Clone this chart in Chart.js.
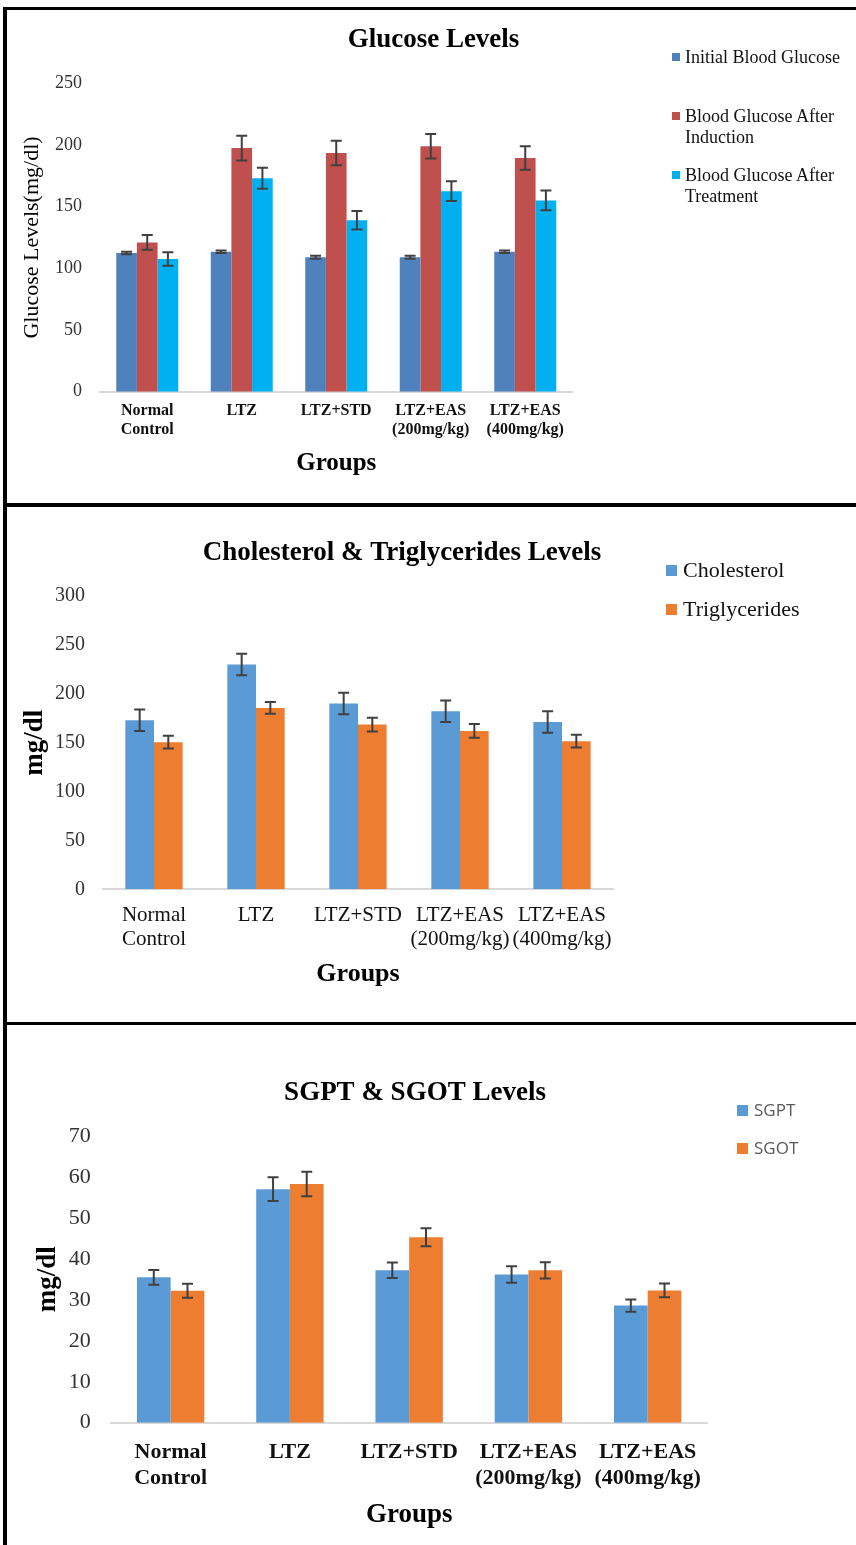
<!DOCTYPE html>
<html>
<head>
<meta charset="utf-8">
<script src="https://cdn.jsdelivr.net/npm/chart.js@4.4.1/dist/chart.umd.min.js"></script>
<style>
  html, body { margin: 0; padding: 0; }
  body { width: 856px; height: 1545px; background: #fff; position: relative; overflow: hidden; }
  .rule { position: absolute; background: #000; }
  canvas { position: absolute; }
  .lg-item { position: absolute; white-space: normal; }
  .lg-swatch { position: absolute; }
</style>
</head>
<body>
<div class="rule" style="left:3px;top:7px;width:853px;height:3px"></div>
<div class="rule" style="left:3px;top:7px;width:4px;height:1538px"></div>
<div class="rule" style="left:3px;top:503px;width:853px;height:4px"></div>
<div class="rule" style="left:3px;top:1022px;width:853px;height:3px"></div>

<canvas id="glucose" width="845" height="492" style="left:11px;top:11px"></canvas>
<canvas id="lipids" width="788" height="515" style="left:8px;top:507px"></canvas>
<canvas id="enzymes" width="814" height="520" style="left:8px;top:1025px"></canvas>

<script>
// ---- data ----
const groups = [['Normal', 'Control'], 'LTZ', 'LTZ+STD', ['LTZ+EAS', '(200mg/kg)'], ['LTZ+EAS', '(400mg/kg)']];

const glucoseInitial = [112.5, 113.5, 109, 109, 113.5];
const glucoseInitialErr = [1, 1, 1.2, 1.2, 1];
const glucoseInduction = [121, 197.5, 193.5, 199, 189.5];
const glucoseInductionErr = [6, 10, 10, 10, 9.5];
const glucoseTreatment = [107.5, 173, 139, 162.5, 155];
const glucoseTreatmentErr = [5.5, 8.5, 7.5, 8, 8];

const cholesterol = [173, 230, 190, 182, 171];
const cholesterolErr = [11, 11, 11, 11, 11];
const triglycerides = [150.5, 185.5, 168.5, 162, 151.5];
const triglyceridesErr = [6.5, 6, 7, 7, 6.5];

const sgpt = [35.5, 57, 37.2, 36.2, 28.6];
const sgptErr = [1.8, 2.9, 1.9, 2, 1.5];
const sgot = [32.2, 58.3, 45.3, 37.2, 32.3];
const sgotErr = [1.7, 3, 2.2, 2, 1.7];

const glucoseTicks = { min: 0, max: 250, step: 50 };
const lipidTicks = { min: 0, max: 300, step: 50 };
const enzymeTicks = { min: 0, max: 70, step: 10 };

// ---- helpers ----
const SERIF = "'Liberation Serif', 'Times New Roman', serif";
Chart.defaults.font.family = SERIF;
Chart.defaults.color = '#333';

// Mean ± SD whiskers drawn on top of each bar
const errorBars = {
  id: 'errorBars',
  afterDatasetsDraw(chart, args, opts) {
    const { ctx } = chart;
    const yScale = chart.scales.y;
    chart.data.datasets.forEach((ds, i) => {
      if (!ds.errors) return;
      const meta = chart.getDatasetMeta(i);
      meta.data.forEach((bar, j) => {
        const v = ds.data[j], e = ds.errors[j];
        const yTop = yScale.getPixelForValue(v + e);
        const yBot = yScale.getPixelForValue(v - e);
        const x = bar.x;
        ctx.save();
        ctx.strokeStyle = opts.color;
        ctx.lineWidth = opts.width;
        ctx.beginPath();
        ctx.moveTo(x, yTop); ctx.lineTo(x, yBot);
        ctx.moveTo(x - opts.cap, yTop); ctx.lineTo(x + opts.cap, yTop);
        ctx.moveTo(x - opts.cap, yBot); ctx.lineTo(x + opts.cap, yBot);
        ctx.stroke();
        ctx.restore();
      });
    });
  }
};

function makeChart(id, cfg) {
  const ctx = document.getElementById(id);
  return new Chart(ctx, {
    type: 'bar',
    data: { labels: groups, datasets: cfg.datasets },
    plugins: [errorBars],
    options: {
      responsive: false,
      animation: false,
      devicePixelRatio: 1,
      layout: { padding: 0 },
      datasets: { bar: { categoryPercentage: cfg.groupWidth, barPercentage: 1.0, borderWidth: 0 } },
      plugins: {
        legend: { display: false },
        tooltip: { enabled: false },
        title: {
          display: true,
          text: cfg.title,
          color: '#000',
          font: { size: 27, weight: 'bold', family: SERIF, lineHeight: 1.2 },
          padding: cfg.titlePad
        },
        errorBars: { color: '#404040', width: 2, cap: 5.5 }
      },
      scales: {
        x: {
          grid: { display: false, drawTicks: false },
          border: { display: true, color: '#D9D9D9', width: 2 },
          ticks: {
            color: '#111',
            font: cfg.xTickFont,
            padding: cfg.xTickPad,
            maxRotation: 0,
            autoSkip: false
          },
          title: {
            display: true,
            text: 'Groups',
            color: '#000',
            font: cfg.xTitleFont,
            padding: { top: 0, bottom: cfg.xTitlePad }
          },
          afterFit(s) { s.height = cfg.xHeight; }
        },
        y: {
          min: cfg.ticks.min,
          max: cfg.ticks.max,
          grid: { display: false, drawTicks: false },
          border: { display: false },
          ticks: {
            stepSize: cfg.ticks.step,
            color: '#333',
            font: cfg.yTickFont,
            padding: cfg.yTickPad
          },
          title: {
            display: true,
            text: cfg.yTitle,
            color: '#000',
            font: cfg.yTitleFont,
            padding: { top: cfg.yTitlePad, bottom: 0 }
          },
          afterFit(s) { s.width = cfg.yWidth; }
        },
        // reserves the blank band on the right that holds the legend
        side: {
          type: 'linear',
          position: 'right',
          display: true,
          grid: { display: false, drawTicks: false },
          border: { display: false },
          ticks: { display: false },
          afterFit(s) { s.width = cfg.sideWidth; }
        }
      }
    }
  });
}

// Legend rendered as page text, built from each chart's datasets
function htmlLegend(chart, spec) {
  chart.data.datasets.forEach((ds, i) => {
    const item = document.createElement('div');
    item.className = 'lg-item';
    const top = spec.firstCenter + i * spec.pitch - spec.lineHeight / 2;
    item.style.left = spec.textLeft + 'px';
    item.style.top = top + 'px';
    item.style.width = spec.textWidth + 'px';
    item.style.font = spec.font;
    item.style.lineHeight = spec.lineHeight + 'px';
    item.style.color = spec.color;
    item.textContent = ds.label;
    const sw = document.createElement('span');
    sw.className = 'lg-swatch';
    sw.style.left = (spec.markerLeft - spec.textLeft) + 'px';
    sw.style.top = ((spec.lineHeight - spec.markerSize) / 2) + 'px';
    sw.style.width = spec.markerSize + 'px';
    sw.style.height = spec.markerSize + 'px';
    sw.style.background = ds.backgroundColor;
    item.appendChild(sw);
    document.body.appendChild(item);
  });
}

// ---- Glucose ----
const glucoseChart = makeChart('glucose', {
  title: 'Glucose Levels',
  titlePad: { top: 12.8, bottom: 27.1 },
  groupWidth: 0.656,
  ticks: glucoseTicks,
  datasets: [
    { label: 'Initial Blood Glucose', data: glucoseInitial, errors: glucoseInitialErr, backgroundColor: '#4F81BD' },
    { label: 'Blood Glucose After Induction', data: glucoseInduction, errors: glucoseInductionErr, backgroundColor: '#C0504D' },
    { label: 'Blood Glucose After Treatment', data: glucoseTreatment, errors: glucoseTreatmentErr, backgroundColor: '#00B0F0' }
  ],
  xTickFont: { size: 16, weight: 'bold', family: SERIF, lineHeight: 1.1875 },
  xTickPad: 10,
  xTitleFont: { size: 25, weight: 'bold', family: SERIF, lineHeight: 1.2 },
  xTitlePad: 24.5,
  xHeight: 111.3,
  yTickFont: { size: 18, family: SERIF },
  yTickPad: 18,
  yTitle: 'Glucose Levels(mg/dl)',
  yTitleFont: { size: 22, family: SERIF, lineHeight: 1.2 },
  yTitlePad: 7.8,
  yWidth: 89,
  sideWidth: 283.5
});
htmlLegend(glucoseChart, {
  textLeft: 685, markerLeft: 672, markerSize: 8, textWidth: 168,
  firstCenter: 57, pitch: 59, lineHeight: 21,
  font: "18px 'Liberation Serif', serif", color: '#111'
});

// ---- Cholesterol & triglycerides ----
const lipidChart = makeChart('lipids', {
  title: 'Cholesterol & Triglycerides Levels',
  titlePad: { top: 29.8, bottom: 26.8 },
  groupWidth: 0.562,
  ticks: lipidTicks,
  datasets: [
    { label: 'Cholesterol', data: cholesterol, errors: cholesterolErr, backgroundColor: '#5B9BD5' },
    { label: 'Triglycerides', data: triglycerides, errors: triglyceridesErr, backgroundColor: '#ED7D31' }
  ],
  xTickFont: { size: 21, family: SERIF, lineHeight: 1.143 },
  xTickPad: 13.7,
  xTitleFont: { size: 26, weight: 'bold', family: SERIF, lineHeight: 1.2 },
  xTitlePad: 32,
  xHeight: 132.7,
  yTickFont: { size: 20, family: SERIF },
  yTickPad: 18,
  yTitle: 'mg/dl',
  yTitleFont: { size: 27, weight: 'bold', family: SERIF, lineHeight: 1.2 },
  yTitlePad: 10.8,
  yWidth: 95,
  sideWidth: 183
});
htmlLegend(lipidChart, {
  textLeft: 683, markerLeft: 666, markerSize: 11, textWidth: 160,
  firstCenter: 570, pitch: 39, lineHeight: 26,
  font: "22px 'Liberation Serif', serif", color: '#111'
});

// ---- SGPT & SGOT ----
const enzymeChart = makeChart('enzymes', {
  title: 'SGPT & SGOT Levels',
  titlePad: { top: 51.5, bottom: 27.1 },
  groupWidth: 0.565,
  ticks: enzymeTicks,
  datasets: [
    { label: 'SGPT', data: sgpt, errors: sgptErr, backgroundColor: '#5B9BD5' },
    { label: 'SGOT', data: sgot, errors: sgotErr, backgroundColor: '#ED7D31' }
  ],
  xTickFont: { size: 22, weight: 'bold', family: SERIF, lineHeight: 1.18 },
  xTickPad: 16.3,
  xTitleFont: { size: 27, weight: 'bold', family: SERIF, lineHeight: 1.2 },
  xTitlePad: 13.8,
  xHeight: 122.3,
  yTickFont: { size: 22, family: SERIF },
  yTickPad: 20.3,
  yTitle: 'mg/dl',
  yTitleFont: { size: 27, weight: 'bold', family: SERIF, lineHeight: 1.2 },
  yTitlePad: 23.8,
  yWidth: 103,
  sideWidth: 114.7
});
htmlLegend(enzymeChart, {
  textLeft: 754, markerLeft: 737, markerSize: 11, textWidth: 80,
  firstCenter: 1110, pitch: 38, lineHeight: 24,
  font: "17px 'Open Sans', sans-serif", color: '#595959'
});
</script>
</body>
</html>
